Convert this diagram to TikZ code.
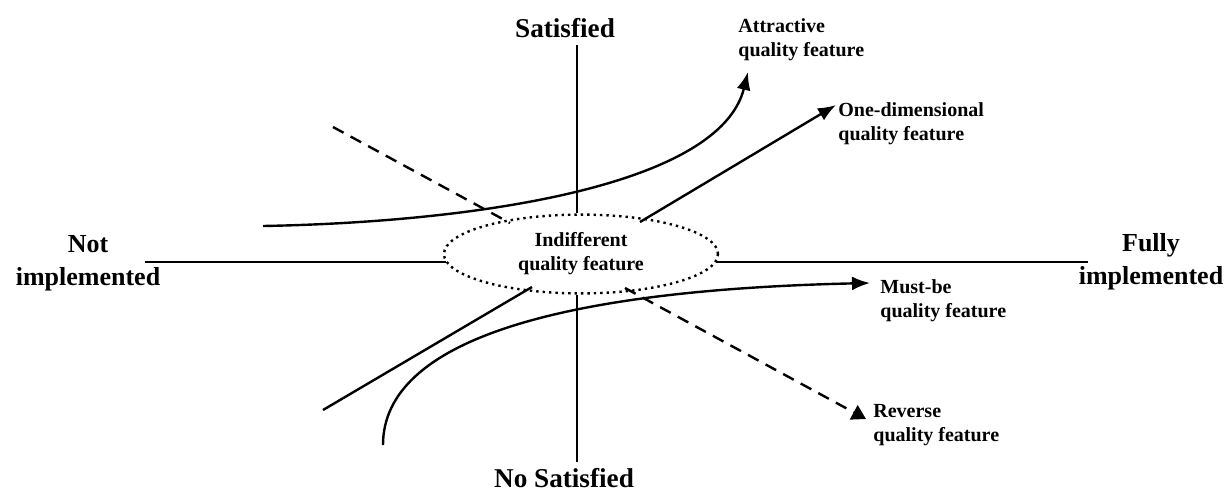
\documentclass[tikz,border=0pt]{standalone}
\usepackage{fontspec}
\setmainfont{Liberation Serif}
\usetikzlibrary{shapes.geometric,arrows.meta}
\tikzset{
  biglabel/.style={font=\fontsize{13}{16.5}\selectfont\bfseries, align=center, inner sep=0pt},
  axislabel/.style={font=\fontsize{13.6}{16.5}\selectfont\bfseries, inner sep=0pt},
  featlabel/.style={font=\fontsize{10}{12}\selectfont\bfseries, align=left, inner sep=0pt, anchor=north west},
  kline/.style={line width=1.2pt},
}
\begin{document}
\begin{tikzpicture}[x=0.5pt, y=-0.5pt]
      \useasboundingbox (0, 0) rectangle (1227, 494);
      \node (sat) [axislabel] at (565, 28) {Satisfied};
      \node (nosat) [axislabel] at (564, 478) {No Satisfied};
      \node (notimp) [biglabel] at (88, 263) {Not\\implemented};
      \node (fullimp) [biglabel] at (1151, 262) {Fully\\implemented};
      \node (indiff) [ellipse, draw, line width=1.2pt, dotted, minimum width=137pt, minimum height=34pt,
                      font=\fontsize{10}{12}\selectfont\bfseries, align=center] at (581, 254)
            {Indifferent\\quality feature};
      \node (attr) [featlabel] at (738, 18) {Attractive\\quality feature};
      \node (onedim) [featlabel] at (838, 102) {One-dimensional\\quality feature};
      \node (mustbe) [featlabel] at (880, 279) {Must-be\\quality feature};
      \node (rev) [featlabel] at (873, 404) {Reverse\\quality feature};
      % axes
      \coordinate (ytop) at (577, 45);
      \coordinate (ybot) at (577, 462);
      \coordinate (xleft) at (145, 262);
      \coordinate (xright) at (1088, 262);
      \draw [kline] (ytop) -- (ytop |- indiff.north)
                    (ybot) -- (ybot |- indiff.south)
                    (xleft) -- (446, 262)
                    (xright) -- (716, 262);
      % feature curves
      \coordinate (attr0) at (263, 226);
      \coordinate (attrtip) at (748, 72);
      \draw [kline, -{Latex[length=9pt, width=7pt]}] (attr0) .. controls (480, 222) and (720, 185) .. (attrtip);
      \coordinate (od0) at (323, 410);
      \coordinate (od1) at (532, 287);
      \coordinate (od2) at (640, 222);
      \coordinate (odtip) at (836, 105);
      \draw [kline] (od0) -- (od1);
      \draw [kline, -{Latex[length=9pt, width=7pt]}] (od2) -- (odtip);
      \coordinate (mb0) at (383, 445);
      \coordinate (mbtip) at (870, 283);
      \draw [kline, -{Latex[length=9pt, width=7pt]}] (mb0) .. controls (383, 340) and (560, 290) .. (mbtip);
      \coordinate (rv0) at (333, 127);
      \coordinate (rv1) at (510, 223);
      \coordinate (rv2) at (625, 288);
      \coordinate (rvtip) at (866, 419);
      \draw [kline, dashed, dash pattern=on 6pt off 4pt] (rv0) -- (rv1);
      \draw [kline, dashed, dash pattern=on 6pt off 4pt, -{Triangle[length=7pt, width=8pt]}] (rv2) -- (rvtip);
\end{tikzpicture}
\end{document}
